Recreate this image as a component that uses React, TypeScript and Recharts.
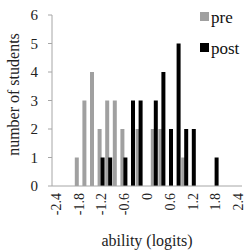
import React from 'react'
import { BarChart, Bar, XAxis, YAxis, Legend } from 'recharts'

// histogram bins (logits), every 0.2
const bins = [
  '-2.4', '-2.2', '-2.0', '-1.8', '-1.6', '-1.4', '-1.2', '-1.0', '-0.8', '-0.6', '-0.4', '-0.2', '0',
  '0.2', '0.4', '0.6', '0.8', '1.0', '1.2', '1.4', '1.6', '1.8', '2.0', '2.2', '2.4',
]
const preCounts = [0, 0, 0, 1, 3, 4, 2, 3, 3, 2, 0, 2, 0, 2, 2, 0, 0, 1, 0, 0, 0, 0, 0, 0, 0]
const postCounts = [0, 0, 0, 0, 0, 0, 1, 1, 0, 1, 3, 3, 0, 3, 4, 2, 5, 2, 2, 0, 0, 1, 0, 0, 0]
const xLabels = ['-2.4', '-1.8', '-1.2', '-0.6', '0', '0.6', '1.2', '1.8', '2.4']
const yTicks = [0, 1, 2, 3, 4, 5, 6]
// tick marks sit on the bin edges
const edgeTicks = [0, 1, 2, 3, 4, 5, 6, 7, 8, 9, 10, 11, 12, 13, 14, 15, 16, 17, 18, 19, 20, 21, 22, 23, 24, 25]

const rows = bins.map((bin, i) => ({ bin, pre: preCounts[i], post: postCounts[i] }))

const FONT = '"Liberation Serif", "Times New Roman", serif'
const AXIS = '#a6a6a6'
const PRE = '#a0a0a0'
const POST = '#000000'

const BinTick = ({ x, y, payload }: any) => {
  if (!xLabels.includes(payload.value)) return <g />
  return (
    <g transform={`translate(${x},${y})`}>
      <text
        x={0}
        y={0}
        dy={5}
        transform="rotate(-90)"
        textAnchor="end"
        fontSize={14}
        fontFamily={FONT}
        fill="#222"
      >
        {payload.value}
      </text>
    </g>
  )
}

const LegendBox = () => (
  <div style={{ fontFamily: FONT, fontSize: 17, color: '#111', lineHeight: '20px' }}>
    {[
      { name: 'pre', color: PRE },
      { name: 'post', color: POST },
    ].map((item, i) => (
      <div key={item.name} style={{ display: 'flex', alignItems: 'center', marginTop: i ? 11 : 0 }}>
        <span style={{ width: 9, height: 9, background: item.color, display: 'inline-block', marginRight: 2, marginTop: -4 }} />
        <span>{item.name}</span>
      </div>
    ))}
  </div>
)

export default function App() {
  return (
    <div style={{ position: 'absolute', left: 0, top: 0, width: 250, height: 250, background: '#fff' }}>
      <BarChart
        width={250}
        height={250}
        data={rows}
        margin={{ top: 15, right: 8, left: 0, bottom: 0 }}
        barSize={4}
        barGap={-1}
      >
        <XAxis
          xAxisId="edge"
          type="number"
          domain={[0, 25]}
          ticks={edgeTicks}
          allowDataOverflow
          height={0}
          axisLine={false}
          tickLine={{ stroke: AXIS }}
          tickSize={4}
          tick={() => <g />}
        />
        <XAxis
          xAxisId="cat"
          dataKey="bin"
          interval={0}
          height={64}
          axisLine={{ stroke: AXIS }}
          tickLine={false}
          tickSize={4}
          tickMargin={3}
          tick={<BinTick />}
          label={{ value: 'ability (logits)', position: 'insideBottom', offset: 4, fontSize: 16, fontFamily: FONT, fill: '#222' }}
        />
        <YAxis
          width={52}
          domain={[0, 6]}
          ticks={yTicks}
          axisLine={{ stroke: AXIS }}
          tickLine={{ stroke: AXIS }}
          tickSize={4}
          tickMargin={10}
          tick={{ fontSize: 15, fontFamily: FONT, fill: '#222' }}
          label={({ viewBox }: any) => (
            <text
              x={viewBox.x + 19}
              y={viewBox.y + viewBox.height / 2 - 6}
              transform={`rotate(-90, ${viewBox.x + 19}, ${viewBox.y + viewBox.height / 2 - 6})`}
              textAnchor="middle"
              fontSize={16}
              fontFamily={FONT}
              fill="#222"
            >
              number of students
            </text>
          )}
        />
        <Legend
          layout="horizontal"
          verticalAlign="middle"
          align="center"
          content={<LegendBox />}
          wrapperStyle={{ position: 'absolute', left: 200, top: 8, width: 50 }}
        />
        <Bar xAxisId="cat" dataKey="pre" fill={PRE} isAnimationActive={false} />
        <Bar xAxisId="cat" dataKey="post" fill={POST} isAnimationActive={false} />
      </BarChart>
    </div>
  )
}
